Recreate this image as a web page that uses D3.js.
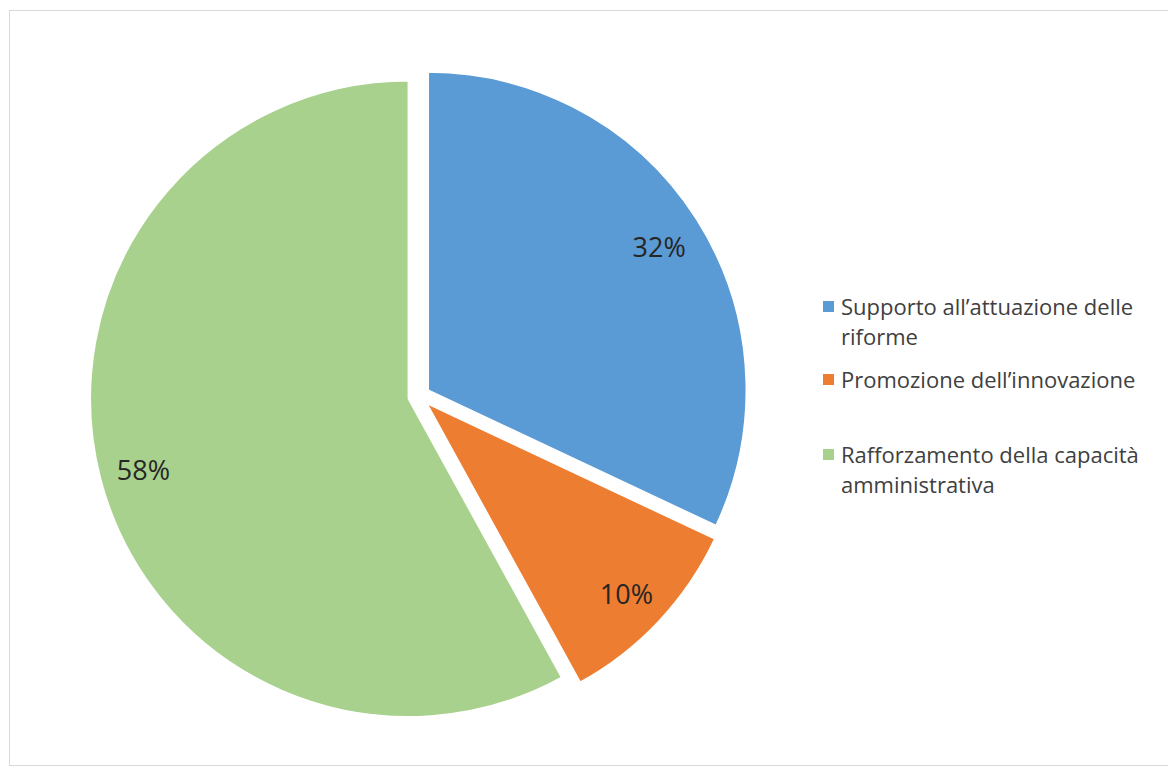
<!DOCTYPE html>
<head>
    <meta charset="utf-8">
    <script src="https://cdn.jsdelivr.net/npm/d3@7"></script>
    <style>
        body { margin: 0; background: #fff; }
        svg { display: block; font-family: "Open Sans", Lato, sans-serif; }
    </style>
</head>
<body>
<svg width="1168" height="771"></svg>
<script type="text/javascript">
    var svg = d3.select("svg"),
            width = +svg.attr("width"),
            height = +svg.attr("height");

    // data
    var categories = ["Supporto all’attuazione delle riforme",
        "Promozione dell’innovazione",
        "Rafforzamento della capacità amministrativa"];
    var values = [32, 10, 58];
    var legendLines = [["Supporto all’attuazione delle", "riforme"],
        ["Promozione dell’innovazione"],
        ["Rafforzamento della capacità", "amministrativa"]];
    var colors = ["#5b9bd5", "#ed7d31", "#a9d18e"];

    var cx = 419, cy = 396, radius = 318, explode = 11;

    // chart area frame
    svg.append("rect")
            .attr("x", 9.5).attr("y", 10.5)
            .attr("width", width + 10).attr("height", 755)
            .attr("fill", "none")
            .attr("stroke", "#d9d9d9");

    var pie = d3.pie().sort(null).value(function (d) { return d; });
    var arc = d3.arc().innerRadius(0).outerRadius(radius);
    var labelArc = d3.arc().innerRadius(radius * 0.86).outerRadius(radius * 0.86);
    var arcs = pie(values);

    function offset(d) {
        var a = (d.startAngle + d.endAngle) / 2;
        return [Math.sin(a) * explode, -Math.cos(a) * explode];
    }

    var g = svg.append("g").attr("transform", "translate(" + cx + "," + cy + ")");

    var slice = g.selectAll("g.slice")
            .data(arcs)
            .enter()
            .append("g")
            .attr("class", "slice")
            .attr("transform", function (d) {
                var o = offset(d);
                return "translate(" + o[0] + "," + o[1] + ")";
            });

    slice.append("path")
            .attr("d", arc)
            .attr("fill", function (d, i) { return colors[i]; })
            .attr("stroke", "#fff")
            .attr("stroke-width", 1.5);

    slice.append("text")
            .attr("transform", function (d) {
                var c = labelArc.centroid(d);
                return "translate(" + c[0] + "," + c[1] + ")";
            })
            .attr("text-anchor", "middle")
            .attr("dy", "0.5em")
            .attr("font-size", 27)
            .attr("fill", "#262626")
            .text(function (d) { return d.data + "%"; });

    // legend
    var legendY = [307, 380, 455];
    var legend = svg.selectAll("g.legend")
            .data(categories)
            .enter()
            .append("g")
            .attr("class", "legend")
            .attr("transform", function (d, i) { return "translate(823," + legendY[i] + ")"; });

    legend.append("rect")
            .attr("x", 0).attr("y", -6)
            .attr("width", 11).attr("height", 11)
            .attr("fill", function (d, i) { return colors[i]; });

    legend.append("text")
            .attr("x", 18)
            .attr("y", 0)
            .attr("font-size", 22)
            .attr("fill", "#404040")
            .selectAll("tspan")
            .data(function (d, i) { return legendLines[i]; })
            .enter()
            .append("tspan")
            .attr("x", 18)
            .attr("dy", function (d, j) { return j === 0 ? "0.35em" : 30; })
            .text(function (d) { return d; });
</script>
</body>
</html>
